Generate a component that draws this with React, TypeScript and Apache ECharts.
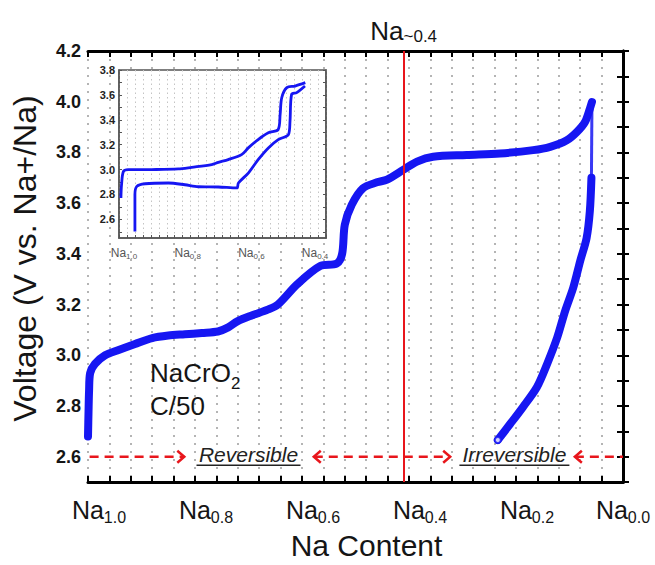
import React, { useEffect, useRef } from 'react';
import * as echarts from 'echarts';

const FONT = '"Liberation Sans", Arial, Helvetica, sans-serif';
const BLUE = '#1616f2';
const RED = '#e8161c';
const INK = '#151515';

// First charge of NaCrO2 at C/50: [Na content, voltage]
const chargeCurve: [number, number][] = [
  [1.0, 2.68], [0.999, 2.78], [0.998, 2.86], [0.996, 2.93], [0.987, 2.966],
  [0.968, 3.0], [0.944, 3.02], [0.912, 3.045], [0.88, 3.068], [0.85, 3.078],
  [0.819, 3.083], [0.787, 3.088], [0.757, 3.094], [0.738, 3.11], [0.72, 3.135],
  [0.693, 3.158], [0.664, 3.18], [0.645, 3.2], [0.609, 3.28], [0.566, 3.352],
  [0.535, 3.362], [0.525, 3.4], [0.52, 3.515], [0.507, 3.594], [0.486, 3.659],
  [0.46, 3.682], [0.441, 3.693], [0.411, 3.731], [0.385, 3.764], [0.355, 3.783],
  [0.292, 3.79], [0.23, 3.796], [0.168, 3.809], [0.136, 3.822], [0.105, 3.848],
  [0.086, 3.881], [0.071, 3.92], [0.062, 3.972], [0.058, 3.999],
];

// Relaxation at the top of charge
const relaxCurve: [number, number][] = [[0.058, 3.999], [0.059, 3.7]];

// Subsequent discharge (irreversible branch)
const dischargeCurve: [number, number][] = [
  [0.059, 3.7], [0.062, 3.568], [0.068, 3.463], [0.08, 3.372], [0.093, 3.267],
  [0.108, 3.176], [0.123, 3.07], [0.142, 2.965], [0.161, 2.874], [0.187, 2.796],
  [0.211, 2.729], [0.234, 2.666],
];

// Inset: cycling within the reversible window
const insetCharge: [number, number][] = [
  [0.994, 2.771], [0.992, 2.878], [0.986, 2.985], [0.971, 2.999], [0.897, 3.0],
  [0.814, 3.005], [0.772, 3.018], [0.709, 3.04], [0.688, 3.058], [0.657, 3.08],
  [0.615, 3.12], [0.594, 3.174], [0.563, 3.241], [0.531, 3.295], [0.5, 3.322],
  [0.494, 3.443], [0.489, 3.577], [0.473, 3.658], [0.447, 3.671], [0.415, 3.698],
];
const insetDischarge: [number, number][] = [
  [0.95, 2.502], [0.95, 2.8], [0.944, 2.865], [0.918, 2.886], [0.845, 2.892],
  [0.793, 2.878], [0.751, 2.862], [0.688, 2.86], [0.63, 2.852], [0.625, 2.892],
  [0.594, 2.972], [0.563, 3.08], [0.531, 3.174], [0.5, 3.241], [0.468, 3.281],
  [0.463, 3.389], [0.458, 3.604], [0.442, 3.618], [0.416, 3.671],
];

const insetVoltTicks = [2.5, 2.6, 2.7, 2.8, 2.9, 3.0, 3.1, 3.2, 3.3, 3.4, 3.5, 3.6, 3.7, 3.8];

// Reversibility limit and the annotation row
const limitNa = 0.41;
const arrowVolt = 2.6;
const arrowSpans = [
  { from: 0.997, to: 0.82, heads: ['end'] },
  { from: 0.578, to: 0.323, heads: ['start', 'end'] },
  { from: 0.09, to: 0.0, heads: ['start'] },
];
const regimeLabels = [
  { text: 'Reversible', na: 0.7, half: 52 },
  { text: 'Irreversible', na: 0.203, half: 55 },
];
const compositionAt: [number, number] = [0.884, 2.93];

const axisBlack = { lineStyle: { color: '#000', width: 3 } };
const tickInside = { inside: true, length: 6, lineStyle: { color: '#000', width: 2 } };

const naLabel = (v: number) => {
  const k = Math.round(v * 100);
  if (k % 20 !== 0) return '';
  const s = (k / 100).toFixed(1);
  return k === 0 ? `{n|Na}{s|${s}}` : `{p|}{n|Na}{s|${s}}`;
};
const insetNaLabel = (v: number) => {
  const k = Math.round(v * 1000);
  if (k % 200 !== 0) return '';
  return `{p|}{n|Na}{s|${(k / 1000).toFixed(1)}}`;
};

function buildOption(): echarts.EChartsCoreOption {
  return {
    animation: false,
    backgroundColor: '#fff',
    grid: [
      { left: 88, top: 51, width: 535, height: 434.5, containLabel: false },
      {
        left: 119, top: 70, width: 207, height: 168, show: true, z: 3,
        backgroundColor: '#fff', borderColor: '#555', borderWidth: 1.5,
      },
    ],
    xAxis: [
      {
        type: 'value', gridIndex: 0, min: 0, max: 1, interval: 0.04, inverse: true,
        axisLine: axisBlack, axisTick: tickInside,
        splitLine: { show: true, lineStyle: { color: '#9c9c9c', type: [2, 6], width: 1.5 } },
        axisLabel: {
          margin: 12, showMinLabel: true, showMaxLabel: true, formatter: naLabel,
          rich: {
            n: { fontSize: 25, fontFamily: FONT, color: INK },
            s: { fontSize: 16, fontFamily: FONT, color: INK, padding: [15, 0, 0, 0] },
            p: { width: 22 },
          },
        },
        name: 'Na Content', nameLocation: 'middle', nameGap: 47,
        nameTextStyle: { fontSize: 30, fontFamily: FONT, color: INK, padding: [0, 0, 0, 22] },
      },
      {
        type: 'value', gridIndex: 0, position: 'top', min: 0, max: 1, interval: 0.04, inverse: true,
        axisLine: axisBlack, axisTick: tickInside, axisLabel: { show: false }, splitLine: { show: false },
      },
      {
        type: 'value', gridIndex: 1, min: 0.35, max: 1.0, interval: 0.025, inverse: true, z: 4,
        axisLine: { lineStyle: { color: '#555', width: 1.5 } },
        axisTick: { inside: true, length: 3, lineStyle: { color: '#555', width: 1 } },
        splitLine: { show: true, lineStyle: { color: '#c4c4c4', type: [1.5, 3], width: 1 } },
        axisLabel: {
          margin: 7, showMinLabel: true, showMaxLabel: true, formatter: insetNaLabel,
          rich: {
            n: { fontSize: 12, fontFamily: FONT, color: '#555' },
            s: { fontSize: 8, fontFamily: FONT, color: '#555', padding: [7, 0, 0, 0] },
            p: { width: 10 },
          },
        },
      },
    ],
    yAxis: [
      {
        type: 'value', gridIndex: 0, min: 2.5, max: 4.2, interval: 0.1,
        axisLine: axisBlack, axisTick: tickInside, splitLine: { show: false },
        axisLabel: {
          margin: 7, fontSize: 18, fontWeight: 'bold', fontFamily: FONT, color: INK,
          formatter: (v: number) => (Math.round(v * 10) % 2 === 0 ? v.toFixed(1) : ''),
        },
        name: 'Voltage (V vs. Na+/Na)', nameLocation: 'middle', nameGap: 47,
        nameTextStyle: { fontSize: 32, fontFamily: FONT, color: INK, padding: [0, 0, 0, 16] },
      },
      {
        type: 'value', gridIndex: 0, position: 'right', min: 2.5, max: 4.2, interval: 0.1,
        axisLine: axisBlack, axisTick: tickInside, axisLabel: { show: false }, splitLine: { show: false },
      },
      {
        type: 'value', gridIndex: 1, min: 2.45, max: 3.8, interval: 0.05, z: 4,
        axisLine: { lineStyle: { color: '#555', width: 1.5 } },
        axisTick: { inside: true, length: 3, customValues: insetVoltTicks, lineStyle: { color: '#555' } },
        splitLine: { show: false },
        axisLabel: {
          margin: 4, fontSize: 11, fontWeight: 'bold', fontFamily: FONT, color: '#222',
          formatter: (v: number) => (Math.round(v * 100) % 20 === 0 ? v.toFixed(1) : ''),
        },
      },
      {
        type: 'value', gridIndex: 1, position: 'right', min: 2.45, max: 3.8, interval: 0.05, z: 4,
        axisLine: { lineStyle: { color: '#555', width: 1.5 } },
        axisTick: { inside: true, length: 3, customValues: insetVoltTicks, lineStyle: { color: '#555' } },
        axisLabel: { show: false }, splitLine: { show: false },
      },
    ],
    series: [
      {
        type: 'line', xAxisIndex: 0, yAxisIndex: 0, data: chargeCurve, showSymbol: false, z: 2,
        smooth: 0.3,
        lineStyle: { color: BLUE, width: 8, cap: 'round', join: 'round' },
        markLine: {
          silent: true, symbol: ['none', 'none'], label: { show: false },
          lineStyle: { color: RED, width: 2, type: 'solid' },
          data: [{ xAxis: limitNa }],
        },
      },
      {
        type: 'line', xAxisIndex: 0, yAxisIndex: 0, data: relaxCurve, showSymbol: false, z: 2,
        lineStyle: { color: BLUE, width: 3, opacity: 0.85 },
      },
      {
        type: 'line', xAxisIndex: 0, yAxisIndex: 0, data: dischargeCurve, showSymbol: false, z: 2,
        smooth: 0.3,
        lineStyle: { color: BLUE, width: 8, cap: 'round', join: 'round' },
      },
      {
        type: 'scatter', xAxisIndex: 0, yAxisIndex: 0, z: 3,
        data: [dischargeCurve[dischargeCurve.length - 1]],
        symbol: 'emptyCircle', symbolSize: 6, itemStyle: { color: BLUE, borderWidth: 1.5 },
      },
      {
        type: 'line', xAxisIndex: 2, yAxisIndex: 2, data: insetCharge, showSymbol: false, z: 6,
        smooth: 0.3,
        lineStyle: { color: BLUE, width: 2.8 },
      },
      {
        type: 'line', xAxisIndex: 2, yAxisIndex: 2, data: insetDischarge, showSymbol: false, z: 6,
        smooth: 0.3,
        lineStyle: { color: BLUE, width: 2.8 },
      },
    ],
  };
}

function buildGraphics(px: (v: number, V: number) => number[]) {
  const els: any[] = [];
  const dash = { stroke: RED, lineWidth: 2.5, lineDash: [9, 6] };
  const head = { stroke: RED, lineWidth: 2.5, fill: 'none' };

  arrowSpans.forEach((sp) => {
    const a = px(sp.from, arrowVolt);
    const b = px(sp.to, arrowVolt);
    els.push({ type: 'line', z: 10, shape: { x1: a[0], y1: a[1], x2: b[0], y2: b[1] }, style: dash });
    if (sp.heads.includes('end')) {
      els.push({
        type: 'polyline', z: 10,
        shape: { points: [[b[0] - 7, b[1] - 6], [b[0], b[1]], [b[0] - 7, b[1] + 6]] }, style: head,
      });
    }
    if (sp.heads.includes('start')) {
      els.push({
        type: 'polyline', z: 10,
        shape: { points: [[a[0] + 7, a[1] - 6], [a[0], a[1]], [a[0] + 7, a[1] + 6]] }, style: head,
      });
    }
  });

  regimeLabels.forEach((l) => {
    const p = px(l.na, arrowVolt);
    els.push({
      type: 'text', z: 10, x: p[0], y: p[1] - 2,
      style: {
        text: l.text, fontSize: 21, fontStyle: 'italic', fontFamily: FONT, fill: '#222',
        align: 'center', verticalAlign: 'middle',
      },
    });
    els.push({
      type: 'line', z: 10,
      shape: { x1: p[0] - l.half, y1: p[1] + 8.5, x2: p[0] + l.half, y2: p[1] + 8.5 },
      style: { stroke: '#222', lineWidth: 1.5 },
    });
  });

  const c = px(compositionAt[0], compositionAt[1]);
  els.push({
    type: 'text', z: 10, x: c[0], y: c[1],
    style: {
      text: '{n|NaCrO}{s|2}', align: 'left', verticalAlign: 'middle',
      rich: {
        n: { fontSize: 26, fontFamily: FONT, fill: INK },
        s: { fontSize: 17, fontFamily: FONT, fill: INK, padding: [20, 0, 0, 0] },
      },
    },
  });
  els.push({
    type: 'text', z: 10, x: c[0], y: c[1] + 33,
    style: { text: 'C/50', fontSize: 26, fontFamily: FONT, fill: INK, align: 'left', verticalAlign: 'middle' },
  });

  const top = px(limitNa, 4.2);
  els.push({
    type: 'text', z: 10, x: top[0], y: 31,
    style: {
      text: '{n|Na}{s|~0.4}', align: 'center', verticalAlign: 'middle',
      rich: {
        n: { fontSize: 26, fontFamily: FONT, fill: INK },
        s: { fontSize: 17, fontFamily: FONT, fill: INK, padding: [10, 0, 0, 0] },
      },
    },
  });
  return els;
}

export default function App() {
  const ref = useRef<HTMLDivElement>(null);
  useEffect(() => {
    if (!ref.current) return;
    const chart = echarts.init(ref.current, null, { renderer: 'svg' });
    chart.setOption(buildOption());
    const px = (v: number, V: number) =>
      chart.convertToPixel({ xAxisIndex: 0, yAxisIndex: 0 }, [v, V]) as number[];
    chart.setOption({ graphic: buildGraphics(px) });
    return () => chart.dispose();
  }, []);
  return (
    <div
      ref={ref}
      style={{ position: 'fixed', left: 0, top: 0, width: 655, height: 565, background: '#fff' }}
    />
  );
}
